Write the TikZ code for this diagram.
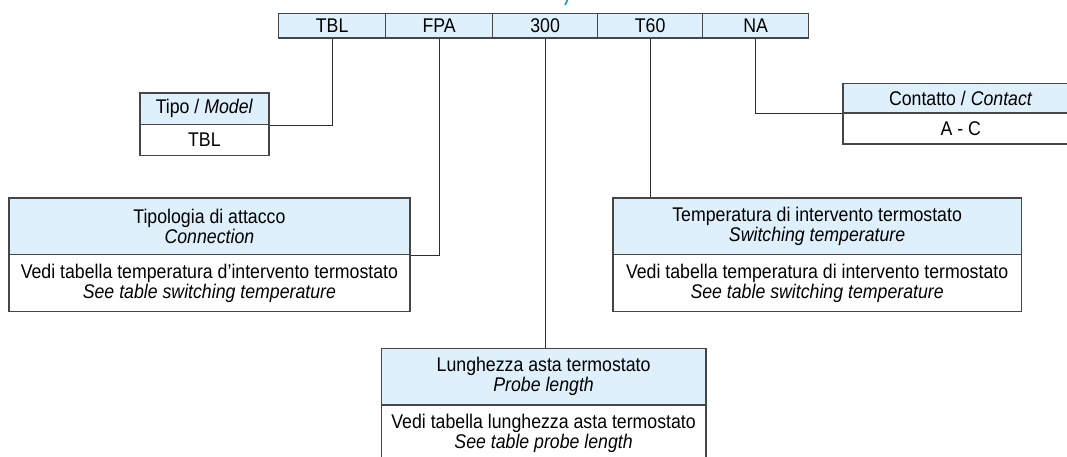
\documentclass[tikz,border=0pt]{standalone}
\usepackage{fontspec}
\setmainfont{Liberation Sans}[FakeStretch=0.895]
\definecolor{hdrfill}{RGB}{222,240,251}
\definecolor{boxline}{RGB}{70,70,70}
\definecolor{linkline}{RGB}{45,45,45}
\definecolor{titleblue}{RGB}{40,150,215}
\begin{document}
\begin{tikzpicture}[x=1pt,y=-1pt,
  base/.style={draw=boxline, line width=1.2pt, inner sep=0pt, align=center,
    anchor=north west, font=\fontsize{19.8}{20}\selectfont},
  hdr/.style={base, fill=hdrfill},
  body/.style={base, fill=white},
  link/.style={draw=linkline, line width=0.9pt}]
\useasboundingbox (0,0) rectangle (1067,456);
\clip (0,0) rectangle (1067,456);
% cut-off title fragment
\draw[titleblue, line width=1.6pt] (567.5,0) -- (565,5);
% top code bar
\node[hdr, minimum width=107pt, minimum height=24.6pt] (cTBL) at (278,12.7) {TBL};
\node[hdr, minimum width=107pt, minimum height=24.6pt] (cFPA) at (385,12.7) {FPA};
\node[hdr, minimum width=105pt, minimum height=24.6pt] (c300) at (492,12.7) {300};
\node[hdr, minimum width=105pt, minimum height=24.6pt] (cT60) at (597,12.7) {T60};
\node[hdr, minimum width=106pt, minimum height=24.6pt] (cNA) at (702,12.7) {NA};
% Tipo
\node[hdr, minimum width=129pt, minimum height=31.7pt] (tipoH) at (139.3,92.3) {Tipo / \textit{Model}};
\node[body, minimum width=129pt, minimum height=31pt] (tipoB) at (139.3,124) {TBL};
% Tipologia di attacco
\node[hdr, minimum width=401pt, minimum height=56.7pt] (attH) at (8.3,197.3) {Tipologia di attacco\\\textit{Connection}};
\node[body, minimum width=401pt, minimum height=56.7pt] (attB) at (8.3,254) {Vedi tabella temperatura d’intervento termostato\\\textit{See table switching temperature}};
% Temperatura
\node[hdr, minimum width=408.4pt, minimum height=56.7pt] (tempH) at (612.3,197.3) {Temperatura di intervento termostato\\\textit{Switching temperature}};
\node[body, minimum width=408.4pt, minimum height=56.7pt] (tempB) at (612.3,254) {Vedi tabella temperatura di intervento termostato\\\textit{See table switching temperature}};
% Lunghezza
\node[hdr, minimum width=324.6pt, minimum height=56.6pt] (lenH) at (380.7,347.7) {Lunghezza asta termostato\\\textit{Probe length}};
\node[body, minimum width=324.6pt, minimum height=56.7pt] (lenB) at (380.7,404.3) {Vedi tabella lunghezza asta termostato\\\textit{See table probe length}};
% Contatto
\node[hdr, minimum width=235.7pt, minimum height=29.6pt] (conH) at (842.3,82.7) {Contatto / \textit{Contact}};
\node[body, minimum width=235.7pt, minimum height=31pt] (conB) at (842.3,112.3) {A - C};
% connectors
\draw[link] (cTBL.south) |- (tipoH.south east);
\draw[link] (cFPA.south) |- (attH.south east);
\draw[link] (c300.south) -- (c300.south |- lenH.north);
\draw[link] (cT60.south) -- (cT60.south |- tempH.north);
\draw[link] (cNA.south) |- (conH.south west);
\end{tikzpicture}
\end{document}
